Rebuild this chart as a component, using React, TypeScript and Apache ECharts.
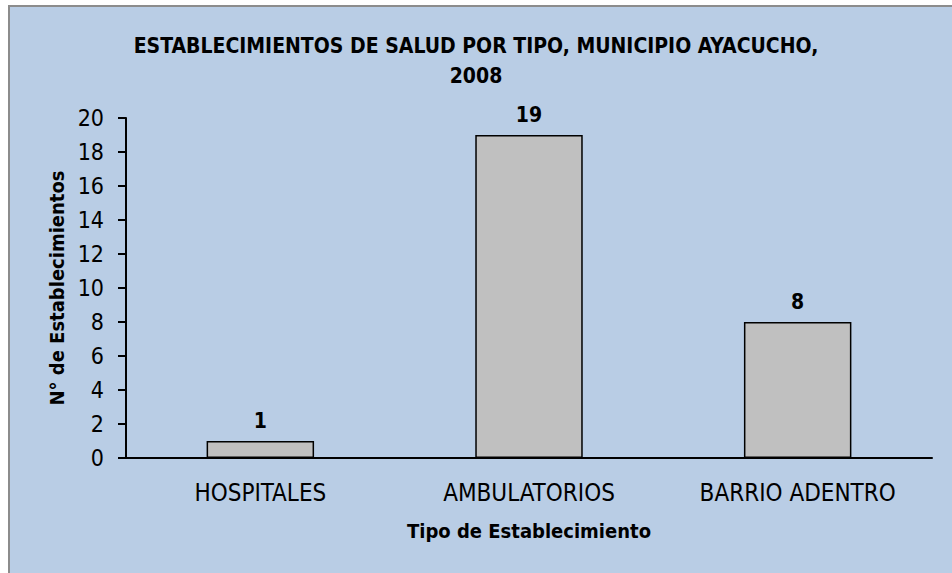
import React, { useEffect, useRef } from "react";
import * as echarts from "echarts";

const titleLines = ["ESTABLECIMIENTOS DE SALUD POR TIPO, MUNICIPIO AYACUCHO,", "2008"];
const categories = ["HOSPITALES", "AMBULATORIOS", "BARRIO ADENTRO"];
const values = [1, 19, 8];
const yAxisName = "N° de Establecimientos";
const xAxisName = "Tipo de Establecimiento";

const FONT = "'Liberation Sans Narrow', 'Arial Narrow', 'DejaVu Sans Condensed', sans-serif";

export default function App() {
  const ref = useRef<HTMLDivElement>(null);
  useEffect(() => {
    if (!ref.current) return;
    const chart = echarts.init(ref.current, null, { renderer: "svg" });
    chart.setOption({
      animation: false,
      graphic: [
        {
          type: "rect",
          left: 8,
          top: 5,
          shape: { x: 0, y: 0, width: 960, height: 600 },
          style: { fill: "#B9CDE5", stroke: "#8C8C8C", lineWidth: 2 },
          z: -10,
        },
      ],
      title: {
        text: titleLines.join("\n"),
        left: "center",
        top: 26,
        textStyle: {
          fontFamily: FONT,
          fontWeight: "bold",
          fontSize: 21,
          lineHeight: 30,
          color: "#000",
        },
      },
      grid: { left: 126, right: 20, top: 118, bottom: 115, containLabel: false },
      xAxis: {
        type: "category",
        data: categories,
        name: xAxisName,
        nameLocation: "middle",
        nameGap: 63,
        nameTextStyle: { fontFamily: FONT, fontWeight: "bold", fontSize: 20, color: "#000" },
        axisLine: { lineStyle: { color: "#000", width: 2 } },
        axisTick: { show: false },
        axisLabel: { fontFamily: FONT, fontSize: 24, color: "#000", margin: 23 },
      },
      yAxis: {
        type: "value",
        min: 0,
        max: 20,
        interval: 2,
        name: yAxisName,
        nameLocation: "middle",
        nameGap: 57,
        nameTextStyle: { fontFamily: FONT, fontWeight: "bold", fontSize: 20, color: "#000" },
        axisLine: { show: true, lineStyle: { color: "#000", width: 2 } },
        axisTick: { show: true, length: 8, lineStyle: { color: "#000", width: 2 } },
        axisLabel: { fontFamily: FONT, fontSize: 23, color: "#000", margin: 22 },
        splitLine: { show: false },
      },
      series: [
        {
          type: "bar",
          data: values,
          barWidth: "40%",
          itemStyle: { color: "#C0C0C0", borderColor: "#000", borderWidth: 1.5 },
          label: {
            show: true,
            position: "top",
            distance: 10,
            fontFamily: FONT,
            fontWeight: "bold",
            fontSize: 21,
            color: "#000",
          },
        },
      ],
    });
    return () => chart.dispose();
  }, []);
  return (
    <div
      ref={ref}
      style={{ position: "fixed", left: 0, top: 0, width: 952, height: 573, background: "#fff" }}
    />
  );
}
